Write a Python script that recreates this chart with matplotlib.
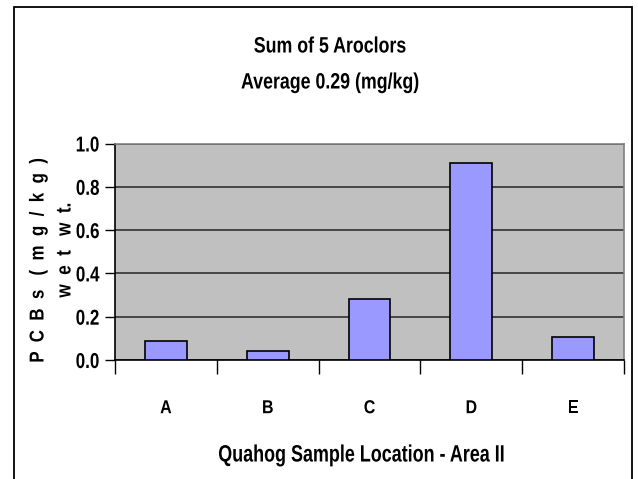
import numpy as np
import matplotlib
matplotlib.use("Agg")
import matplotlib.pyplot as plt
from matplotlib.patches import Rectangle
from matplotlib.patheffects import AbstractPathEffect
from matplotlib.transforms import Affine2D

locations = ["A", "B", "C", "D", "E"]
pcbs = [0.086, 0.043, 0.283, 0.911, 0.108]
yticks = [0.0, 0.2, 0.4, 0.6, 0.8, 1.0]

plt.rcParams['font.family'] = ['Liberation Sans', 'DejaVu Sans']
plt.rcParams['font.weight'] = 'bold'


# no narrow font installed, so squeeze the glyph outlines instead
class Squeeze(AbstractPathEffect):
    def __init__(self, sx=0.78, sy=1.0, anchor='center'):
        super().__init__()
        self.sx, self.sy, self.anchor = sx, sy, anchor

    def draw_path(self, renderer, gc, tpath, affine, rgbFace=None):
        ext = tpath.get_extents(affine)
        cx = ext.x1 if self.anchor == 'right' else (ext.x0 + ext.x1) / 2
        cy = (ext.y0 + ext.y1) / 2
        aff = affine + Affine2D().translate(-cx, -cy).scale(self.sx, self.sy).translate(cx, cy)
        renderer.draw_path(gc, tpath, aff, rgbFace)


narrow = [Squeeze(0.8, 1.0)]

W, H = 638, 479
fig = plt.figure(figsize=(W / 100, H / 100), dpi=100)

# plot area in pixels
left, right, top, bottom = 115, 624, 143.5, 360
ax = fig.add_axes([left / W, 1 - bottom / H, (right - left) / W, (bottom - top) / H])
ax.set_facecolor('#C0C0C0')

x = np.arange(len(locations))
ax.bar(x, pcbs, 0.41, color='#9999FF', edgecolor='black', linewidth=1.2, zorder=3)

ax.set_xlim(-0.5, len(locations) - 0.5)
ax.set_ylim(0, 1.0)
ax.set_yticks(yticks)
ax.set_yticklabels(["%.1f" % v for v in yticks], fontsize=15.5, fontweight='bold')
plt.setp(ax.get_yticklabels(), path_effects=[Squeeze(0.79, 1.0, anchor='right')])
ax.yaxis.grid(True, color='#262626', linewidth=1.1, zorder=1)
ax.set_axisbelow(True)

# category boundaries as tick marks
ax.set_xticks(np.arange(-0.5, len(locations)))
ax.set_xticklabels([])
ax.tick_params(axis='x', direction='out', length=10, width=1, color='black')
ax.tick_params(axis='y', direction='out', length=7, width=1, color='black', pad=4)
for i, lab in enumerate(locations):
    ax.text(i, -0.225, lab, ha='center', va='center', fontsize=13.5,
            fontweight='bold', path_effects=[Squeeze(0.85, 1.0)])

ax.spines['left'].set_color('black')
ax.spines['bottom'].set_color('black')
ax.spines['top'].set_color('#808080')
ax.spines['right'].set_color('#808080')
for s in ax.spines.values():
    s.set_linewidth(1.2)

fig.text(330 / W, 1 - 47 / H, "Sum of 5 Aroclors", ha='center', va='center',
         fontsize=16, fontweight='bold', path_effects=narrow)
fig.text(330 / W, 1 - 83 / H, "Average 0.29 (mg/kg)", ha='center', va='center',
         fontsize=16, fontweight='bold', path_effects=narrow)
fig.text(362 / W, 1 - 455 / H, "Quahog Sample Location - Area II", ha='center',
         va='center', fontsize=17, fontweight='bold', path_effects=[Squeeze(0.76, 1.0)])

# rotated axis title, two overlapping lines as in the original
fig.text(38 / W, 1 - 260 / H, "P  C  B  s   (  m  g  /  k  g  )", rotation=90,
         ha='center', va='center', fontsize=14.5, fontweight='bold',
         path_effects=[Squeeze(1.0, 0.84)])
fig.text(65 / W, 1 - 250 / H, "w  e  t   w  t.", rotation=90, ha='center',
         va='center', fontsize=15, fontweight='bold', path_effects=[Squeeze(1.0, 0.82)])

# chart border
fig.patches.append(Rectangle((14 / W, -0.01), (632 - 14) / W, 1 - 7 / H + 0.01,
                             transform=fig.transFigure, fill=False,
                             edgecolor='black', linewidth=1.3))

fig.savefig("out.png", dpi=100, facecolor='white')
